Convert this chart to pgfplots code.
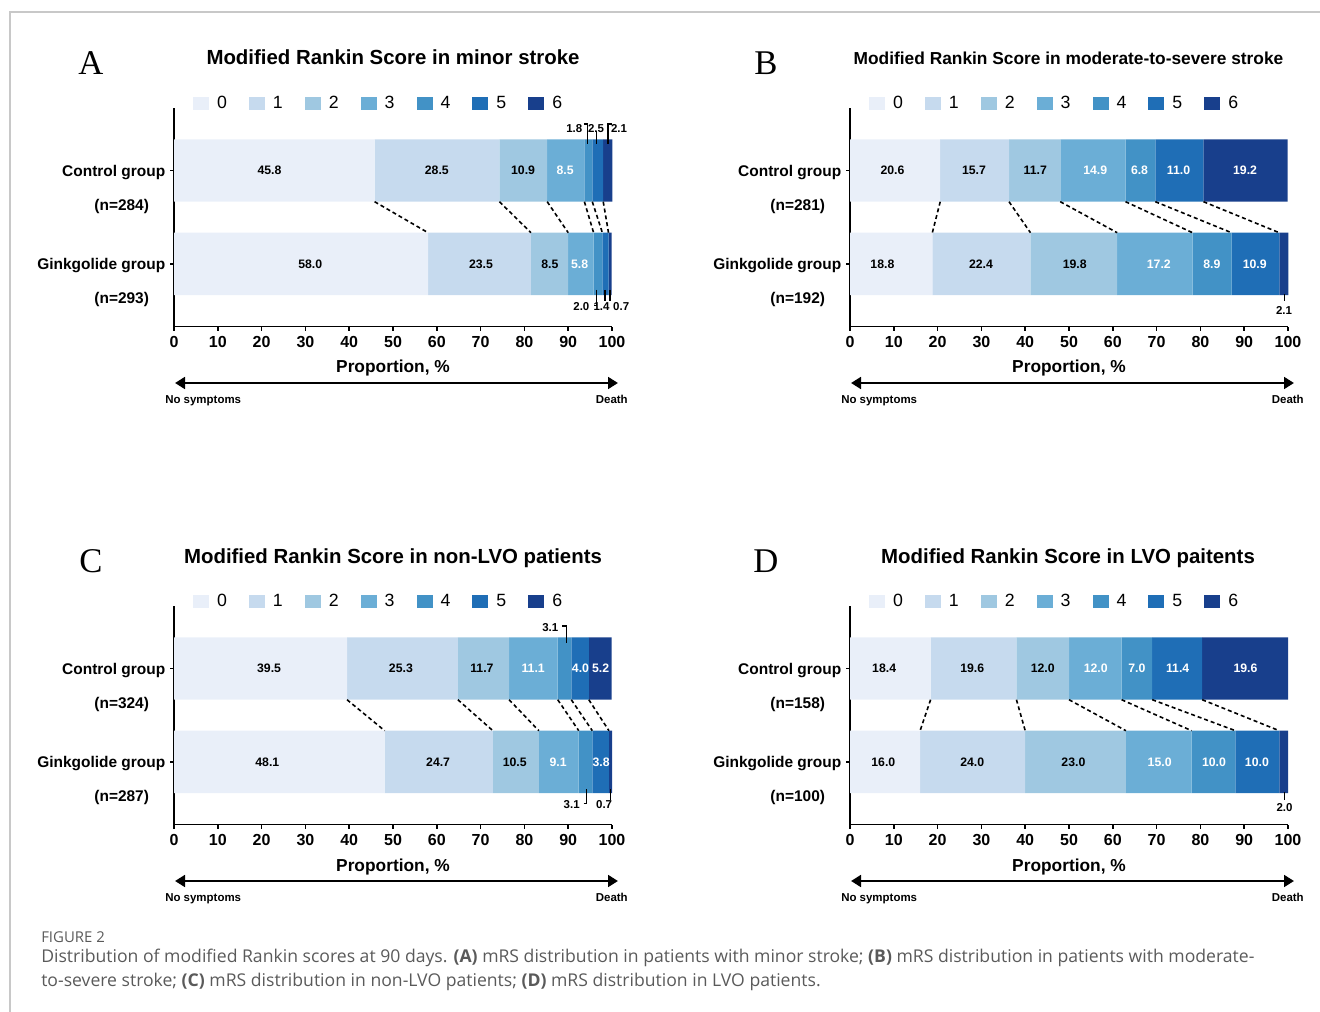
\documentclass[border=0pt]{standalone}
\usepackage{pgfplots}
\pgfplotsset{compat=1.18}
\usepackage{fontspec}
\setmainfont{Liberation Sans}
\newfontfamily\letterfont{Liberation Serif}
\newfontfamily\capfont{Open Sans}
\usetikzlibrary{arrows.meta}
\definecolor{c0}{HTML}{E9EFF9}
\definecolor{c1}{HTML}{C6DAEE}
\definecolor{c2}{HTML}{9FC8E1}
\definecolor{c3}{HTML}{6BAED6}
\definecolor{c4}{HTML}{4292C6}
\definecolor{c5}{HTML}{1F6EB6}
\definecolor{c6}{HTML}{183F8C}
\definecolor{bordergray}{HTML}{C8C8C8}
\definecolor{capgray}{HTML}{5A5A5A}
\def\pxu{0.75pt}
\newcommand\fsz[1]{\fontsize{#1}{#1}\selectfont}
\pgfplotsset{
  mrsgeom/.style={scale only axis, width=328.5pt, height=164.025pt,
    xmin=0, xmax=100, ymin=0, ymax=218.7, anchor=south west, clip=false},
  mrs/.style={mrsgeom, xbar stacked, bar width=46.8pt,
    axis lines=left, axis line style={-, line width=1.1pt, black},
    xtick={0,10,...,100}, ytick={62.8,156.2},
    yticklabels={Ginkgolide group,Control group},
    tick align=outside, major tick length=3pt,
    tick style={line width=1.1pt, black},
    xticklabel style={font=\bfseries\fsz{12}, yshift=-0.8pt},
    yticklabel style={font=\bfseries\fsz{11.6}, yshift=-1.2pt},
    /pgf/number format/assume math mode=true,
    legend image code/.code={\fill[##1] (0pt,-4.9pt) rectangle (12pt,4.9pt);},
    legend style={draw=none, fill=none, at={(axis description cs:0.043,1.0206)},
      anchor=west, inner sep=0pt, font=\fsz{13.3}, legend columns=-1,
      nodes={inner sep=0pt},
      /tikz/every odd column/.append style={column sep=6pt},
      /tikz/every even column/.append style={column sep=16.5pt}},
  },
  over/.style={mrsgeom, hide axis},
  conn/.style={black, line width=1.2pt, dash pattern=on 3pt off 2.2pt, mark=none},
  lead/.style={black, line width=0.9pt, mark=none},
}
\tikzset{
  vb/.style={font=\bfseries\fsz{9.2}, text=black, inner sep=0pt},
  vw/.style={font=\bfseries\fsz{9.2}, text=white, inner sep=0pt},
  vs/.style={font=\bfseries\fsz{8.6}, text=black, inner sep=0pt},
}
\begin{document}
\begin{tikzpicture}
\begin{scope}[x=\pxu,y=-\pxu]
\useasboundingbox (0,0) rectangle (1320,1012);
\draw[bordergray, line width=1.5pt] (10,1012) -- (10,12) -- (1320,12);
% panel letters
\node[anchor=base, font=\letterfont\fsz{26}] at (91,74.7) {A};
\node[anchor=base, font=\letterfont\fsz{26}] at (766,74.7) {B};
\node[anchor=base, font=\letterfont\fsz{26}] at (91,572.7) {C};
\node[anchor=base, font=\letterfont\fsz{26}] at (766,572.7) {D};
% titles
\node[anchor=base, font=\bfseries\fsz{15.3}] at (393,64.5) {Modified Rankin Score in minor stroke};
\node[anchor=base, font=\bfseries\fsz{13}] at (1068.5,65) {Modified Rankin Score in moderate-to-severe stroke};
\node[anchor=base, font=\bfseries\fsz{15.3}] at (393,563) {Modified Rankin Score in non-LVO patients};
\node[anchor=base, font=\bfseries\fsz{15.3}] at (1068,563) {Modified Rankin Score in LVO paitents};
% n labels
\node[font=\bfseries\fsz{11.6}] at (121.7,206.5) {(n=284)};
\node[font=\bfseries\fsz{11.6}] at (121.7,299.5) {(n=293)};
\node[font=\bfseries\fsz{11.6}] at (797.7,206.5) {(n=281)};
\node[font=\bfseries\fsz{11.6}] at (797.7,299.5) {(n=192)};
\node[font=\bfseries\fsz{11.6}] at (121.7,704.5) {(n=324)};
\node[font=\bfseries\fsz{11.6}] at (121.7,797.5) {(n=287)};
\node[font=\bfseries\fsz{11.6}] at (797.7,704.5) {(n=158)};
\node[font=\bfseries\fsz{11.6}] at (797.7,797.5) {(n=100)};
% x labels
\node[anchor=base, font=\bfseries\fsz{13}] at (393,373) {Proportion, \%};
\node[anchor=base, font=\bfseries\fsz{13}] at (1069,373) {Proportion, \%};
\node[anchor=base, font=\bfseries\fsz{13}] at (393,871) {Proportion, \%};
\node[anchor=base, font=\bfseries\fsz{13}] at (1069,871) {Proportion, \%};
% arrows
\foreach \ax/\ay in {175/383, 851/383, 175/881, 851/881}{
  \draw[line width=2pt, {Triangle[length=7.5pt,width=8.8pt]}-{Triangle[length=7.5pt,width=8.8pt]}] (\ax,\ay) -- ({\ax+443},\ay);
}
\foreach \lx/\ly in {165/403, 841/403, 165/901, 841/901}{
  \node[anchor=base west, inner sep=0pt, font=\bfseries\fsz{8.6}] at (\lx,\ly) {No symptoms};
  \node[anchor=base east, inner sep=0pt, font=\bfseries\fsz{8.6}] at ({\lx+463},\ly) {Death};
}
% caption
\node[anchor=base west, inner sep=0pt, font=\capfont\fsz{11.2}, text=capgray] at (41,942) {FIGURE 2};
\node[anchor=base west, inner sep=0pt, font=\capfont\fsz{13.2}, text=capgray] at (41,962.5) {Distribution of modified Rankin scores at 90 days. \textbf{(A)} mRS distribution in patients with minor stroke; \textbf{(B)} mRS distribution in patients with moderate-};
\node[anchor=base west, inner sep=0pt, font=\capfont\fsz{13.2}, text=capgray] at (41,986.5) {to-severe stroke; \textbf{(C)} mRS distribution in non-LVO patients; \textbf{(D)} mRS distribution in LVO patients.};
\end{scope}

% ================= Panel A =================
\begin{axis}[mrs, at={({174*\pxu},{-326.7*\pxu})}]
\addplot[fill=c0,draw=none] coordinates {(45.8,156.2) (58.0,62.8)};
\addplot[fill=c1,draw=none] coordinates {(28.5,156.2) (23.5,62.8)};
\addplot[fill=c2,draw=none] coordinates {(10.9,156.2) (8.5,62.8)};
\addplot[fill=c3,draw=none] coordinates {(8.5,156.2) (5.8,62.8)};
\addplot[fill=c4,draw=none] coordinates {(1.8,156.2) (2.0,62.8)};
\addplot[fill=c5,draw=none] coordinates {(2.5,156.2) (1.4,62.8)};
\addplot[fill=c6,draw=none] coordinates {(2.1,156.2) (0.7,62.8)};
\legend{0,1,2,3,4,5,6}
\end{axis}
\begin{axis}[over, at={({174*\pxu},{-326.7*\pxu})}]
\addplot[conn] coordinates {(45.8,125) (58.0,94)};
\addplot[conn] coordinates {(74.3,125) (81.5,94)};
\addplot[conn] coordinates {(85.2,125) (90.0,94)};
\addplot[conn] coordinates {(93.7,125) (95.8,94)};
\addplot[conn] coordinates {(95.5,125) (97.8,94)};
\addplot[conn] coordinates {(98.0,125) (99.2,94)};
\addplot[lead] coordinates {(93.6,202.7) (94.4,202.7) (94.4,182.4)};
\addplot[lead] coordinates {(96.5,196) (96.5,182.4)};
\addplot[lead] coordinates {(99.9,202.7) (99.1,202.7) (99.1,182.4)};
\addplot[lead] coordinates {(96.5,36.7) (96.5,21) (95.8,21)};
\addplot[lead] coordinates {(98.4,36.7) (98.4,25.5)};
\addplot[lead] coordinates {(99.55,36.7) (99.55,25.5)};
\node[vb] at (axis cs:21.8,156.2) {45.8};
\node[vb] at (axis cs:60.0,156.2) {28.5};
\node[vb] at (axis cs:79.7,156.2) {10.9};
\node[vw] at (axis cs:89.3,156.2) {8.5};
\node[vb] at (axis cs:31.1,62.8) {58.0};
\node[vb] at (axis cs:70.1,62.8) {23.5};
\node[vb] at (axis cs:85.8,62.8) {8.5};
\node[vw] at (axis cs:92.6,62.8) {5.8};
\node[vs] at (axis cs:91.4,198.4) {1.8};
\node[vs] at (axis cs:96.35,198.4) {2.5};
\node[vs] at (axis cs:101.6,198.4) {2.1};
\node[vs] at (axis cs:93.0,19.7) {2.0};
\node[vs] at (axis cs:97.6,19.7) {1.4};
\node[vs] at (axis cs:102.1,19.7) {0.7};
\end{axis}

% ================= Panel B =================
\begin{axis}[mrs, at={({850*\pxu},{-326.7*\pxu})}]
\addplot[fill=c0,draw=none] coordinates {(20.6,156.2) (18.8,62.8)};
\addplot[fill=c1,draw=none] coordinates {(15.7,156.2) (22.4,62.8)};
\addplot[fill=c2,draw=none] coordinates {(11.7,156.2) (19.8,62.8)};
\addplot[fill=c3,draw=none] coordinates {(14.9,156.2) (17.2,62.8)};
\addplot[fill=c4,draw=none] coordinates {(6.8,156.2) (8.9,62.8)};
\addplot[fill=c5,draw=none] coordinates {(11.0,156.2) (10.9,62.8)};
\addplot[fill=c6,draw=none] coordinates {(19.2,156.2) (2.1,62.8)};
\legend{0,1,2,3,4,5,6}
\end{axis}
\begin{axis}[over, at={({850*\pxu},{-326.7*\pxu})}]
\addplot[conn] coordinates {(20.6,125) (18.8,94)};
\addplot[conn] coordinates {(36.3,125) (41.2,94)};
\addplot[conn] coordinates {(48.0,125) (61.0,94)};
\addplot[conn] coordinates {(62.9,125) (78.2,94)};
\addplot[conn] coordinates {(69.7,125) (87.1,94)};
\addplot[conn] coordinates {(80.7,125) (98.0,94)};
\addplot[lead] coordinates {(99.2,32.7) (99.2,25.5)};
\node[vb] at (axis cs:9.7,156.2) {20.6};
\node[vb] at (axis cs:28.3,156.2) {15.7};
\node[vb] at (axis cs:42.3,156.2) {11.7};
\node[vw] at (axis cs:56.0,156.2) {14.9};
\node[vw] at (axis cs:66.1,156.2) {6.8};
\node[vw] at (axis cs:75.0,156.2) {11.0};
\node[vw] at (axis cs:90.2,156.2) {19.2};
\node[vb] at (axis cs:7.4,62.8) {18.8};
\node[vb] at (axis cs:29.9,62.8) {22.4};
\node[vb] at (axis cs:51.3,62.8) {19.8};
\node[vw] at (axis cs:70.5,62.8) {17.2};
\node[vw] at (axis cs:82.6,62.8) {8.9};
\node[vw] at (axis cs:92.4,62.8) {10.9};
\node[vs] at (axis cs:99.1,16.7) {2.1};
\end{axis}

% ================= Panel C =================
\begin{axis}[mrs, at={({174*\pxu},{-824.7*\pxu})}]
\addplot[fill=c0,draw=none] coordinates {(39.5,156.2) (48.1,62.8)};
\addplot[fill=c1,draw=none] coordinates {(25.3,156.2) (24.7,62.8)};
\addplot[fill=c2,draw=none] coordinates {(11.7,156.2) (10.5,62.8)};
\addplot[fill=c3,draw=none] coordinates {(11.1,156.2) (9.1,62.8)};
\addplot[fill=c4,draw=none] coordinates {(3.1,156.2) (3.1,62.8)};
\addplot[fill=c5,draw=none] coordinates {(4.0,156.2) (3.8,62.8)};
\addplot[fill=c6,draw=none] coordinates {(5.2,156.2) (0.7,62.8)};
\legend{0,1,2,3,4,5,6}
\end{axis}
\begin{axis}[over, at={({174*\pxu},{-824.7*\pxu})}]
\addplot[conn] coordinates {(39.5,125) (48.1,94)};
\addplot[conn] coordinates {(64.8,125) (72.8,94)};
\addplot[conn] coordinates {(76.5,125) (83.3,94)};
\addplot[conn] coordinates {(87.6,125) (92.4,94)};
\addplot[conn] coordinates {(90.7,125) (95.5,94)};
\addplot[conn] coordinates {(94.7,125) (99.3,94)};
\addplot[lead] coordinates {(88.6,198.7) (89.65,198.7) (89.65,182)};
\addplot[lead] coordinates {(93.5,21.4) (94.2,21.4) (94.2,35.4)};
\addplot[lead] coordinates {(99.7,35.4) (99.7,24.7)};
\node[vb] at (axis cs:21.7,156.2) {39.5};
\node[vb] at (axis cs:51.8,156.2) {25.3};
\node[vb] at (axis cs:70.3,156.2) {11.7};
\node[vw] at (axis cs:82.0,156.2) {11.1};
\node[vw] at (axis cs:92.8,156.2) {4.0};
\node[vw] at (axis cs:97.4,156.2) {5.2};
\node[vb] at (axis cs:21.3,62.8) {48.1};
\node[vb] at (axis cs:60.3,62.8) {24.7};
\node[vb] at (axis cs:77.8,62.8) {10.5};
\node[vw] at (axis cs:87.7,62.8) {9.1};
\node[vw] at (axis cs:97.5,62.8) {3.8};
\node[vs] at (axis cs:85.9,197.4) {3.1};
\node[vs] at (axis cs:90.8,19.7) {3.1};
\node[vs] at (axis cs:98.2,19.7) {0.7};
\end{axis}

% ================= Panel D =================
\begin{axis}[mrs, at={({850*\pxu},{-824.7*\pxu})}]
\addplot[fill=c0,draw=none] coordinates {(18.4,156.2) (16.0,62.8)};
\addplot[fill=c1,draw=none] coordinates {(19.6,156.2) (24.0,62.8)};
\addplot[fill=c2,draw=none] coordinates {(12.0,156.2) (23.0,62.8)};
\addplot[fill=c3,draw=none] coordinates {(12.0,156.2) (15.0,62.8)};
\addplot[fill=c4,draw=none] coordinates {(7.0,156.2) (10.0,62.8)};
\addplot[fill=c5,draw=none] coordinates {(11.4,156.2) (10.0,62.8)};
\addplot[fill=c6,draw=none] coordinates {(19.6,156.2) (2.0,62.8)};
\legend{0,1,2,3,4,5,6}
\end{axis}
\begin{axis}[over, at={({850*\pxu},{-824.7*\pxu})}]
\addplot[conn] coordinates {(18.4,125) (16.0,94)};
\addplot[conn] coordinates {(38.0,125) (40.0,94)};
\addplot[conn] coordinates {(50.0,125) (63.0,94)};
\addplot[conn] coordinates {(62.0,125) (78.0,94)};
\addplot[conn] coordinates {(69.0,125) (88.0,94)};
\addplot[conn] coordinates {(80.4,125) (98.0,94)};
\addplot[lead] coordinates {(99.2,32.7) (99.2,24.7)};
\node[vb] at (axis cs:7.8,156.2) {18.4};
\node[vb] at (axis cs:27.9,156.2) {19.6};
\node[vb] at (axis cs:44.0,156.2) {12.0};
\node[vw] at (axis cs:56.1,156.2) {12.0};
\node[vw] at (axis cs:65.5,156.2) {7.0};
\node[vw] at (axis cs:74.8,156.2) {11.4};
\node[vw] at (axis cs:90.3,156.2) {19.6};
\node[vb] at (axis cs:7.6,62.8) {16.0};
\node[vb] at (axis cs:27.9,62.8) {24.0};
\node[vb] at (axis cs:51.0,62.8) {23.0};
\node[vw] at (axis cs:70.7,62.8) {15.0};
\node[vw] at (axis cs:83.1,62.8) {10.0};
\node[vw] at (axis cs:92.9,62.8) {10.0};
\node[vs] at (axis cs:99.2,16.7) {2.0};
\end{axis}
\end{tikzpicture}
\end{document}
